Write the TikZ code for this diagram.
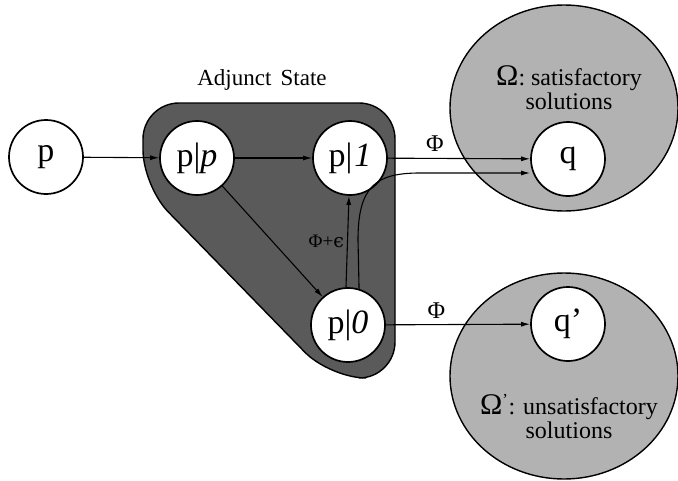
\documentclass[tikz,border=0pt]{standalone}
\usepackage{fontspec}
\setmainfont{Liberation Serif}
\newfontfamily\epsfont{DejaVu Serif}
\usetikzlibrary{arrows.meta}
\definecolor{darkfill}{HTML}{5A5A5A}
\definecolor{lightfill}{HTML}{B2B2B2}
\begin{document}
\begin{tikzpicture}[x=1pt,y=-1pt,
  state/.style={circle,draw,line width=1.7pt,fill=white,minimum size=74pt,inner sep=0pt,font=\fontsize{34}{34}\selectfont},
  arr/.style={line width=1.1pt,-{Latex[length=9pt,width=5pt]}},
  lbl/.style={font=\fontsize{24}{24}\selectfont,align=center,inner sep=0pt},
  phi/.style={font=\fontsize{24}{24}\selectfont,inner sep=0pt}]
\useasboundingbox (0,0) rectangle (678,480);
% solution sets
\draw[line width=1.4pt,fill=lightfill] (564,108) ellipse [x radius=114, y radius=103];
\draw[line width=1.4pt,fill=lightfill] (564,376) ellipse [x radius=114, y radius=103];
% adjunct state region
\draw[line width=1.4pt,fill=darkfill,rounded corners=36pt]
  (143,103) -- (395,103) -- (395,378) -- (330,378) -- (143,186) -- cycle;
\node[font=\fontsize{23}{23}\selectfont,inner sep=0pt] (adj) at (262,80) {Adjunct\hspace{0.4em}State};
% states
\node[state] (p)  at (46,157)  {p};
\node[state] (pp) at (197,158) {p|\textit{p}};
\node[state] (p1) at (350,158) {p|\hspace{0.05em}\textit{1}};
\node[state] (p0) at (348,325) {p|\textit{0}};
\node[state] (q)  at (568,159) {q};
\node[state] (qq) at (568,324) {q’};
% labels
\node[lbl] (om) at (569,88) {{\fontsize{30}{30}\selectfont Ω}: satisfactory\\solutions};
\node[lbl] (omm) at (569,417) {{\fontsize{30}{30}\selectfont Ω}\textsuperscript{’}: unsatisfactory\\solutions};
% connectors
\draw[arr] (p) -- (pp);
\draw[arr] (pp) -- (p1);
\draw[arr] (pp) -- (p0);
\draw[arr] ([xshift=-2pt]p0.north) -- ([xshift=-1pt]p1.south)
  node[pos=0.5,left=3pt,inner sep=0pt,font=\fontsize{19}{19}\selectfont] (pe) {Φ+{\epsfont ϵ}};
\draw[arr] (p0.73) -- (358,240) .. controls (358,186) and (376,173) .. (420,173) -- ([yshift=-14pt]q.west);
\draw[arr] (p1) -- (q) node[phi,pos=0.33,above=6pt] (f1) {Φ};
\draw[arr] (p0) -- (qq) node[phi,pos=0.35,above=6pt] (f2) {Φ};
\end{tikzpicture}
\end{document}
